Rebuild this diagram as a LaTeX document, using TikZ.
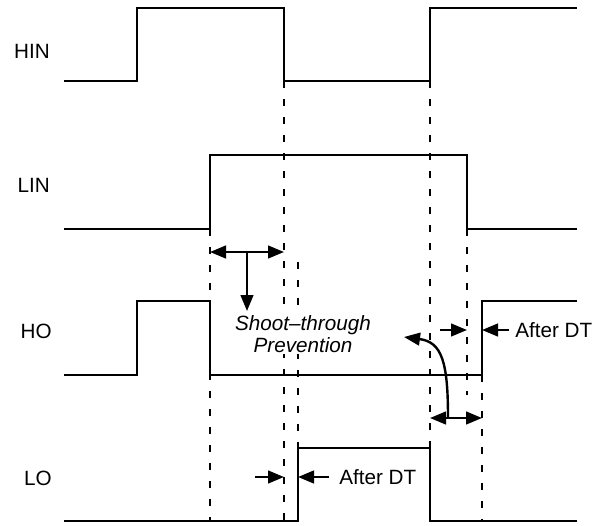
\documentclass[tikz,border=0pt]{standalone}
\usepackage{fontspec}
\setmainfont{Liberation Sans}
\usetikzlibrary{arrows.meta}
\begin{document}
\begin{tikzpicture}[x=0.75pt,y=-0.75pt,
  wave/.style={line width=1.8pt, line join=miter},
  guide/.style={line width=1.8pt, dash pattern=on 5.5pt off 8pt},
  arr/.style={line width=1.8pt,-{Triangle[length=12pt,width=9.5pt]}},
  darr/.style={line width=1.8pt,{Triangle[length=12pt,width=9.5pt]}-{Triangle[length=12pt,width=9.5pt]}},
  lbl/.style={font=\fontsize{15.5}{18}\selectfont, inner sep=0pt},
  sig/.style={lbl, anchor=base east},
  note/.style={font=\fontsize{15.5}{17}\selectfont\itshape, align=center, fill=white, inner sep=1pt}]
\useasboundingbox (0,0) rectangle (602,525);
\fill[white] (0,0) rectangle (602,525);

% signal labels
\node[sig] (hin) at (50,58) {HIN};
\node[sig] (lin) at (50,192) {LIN};
\node[sig] (ho)  at (52,338) {HO};
\node[sig] (lo)  at (52,485) {LO};

% guide coordinates
\coordinate (g1a) at (284,81);  \coordinate (g1b) at (284,521);
\coordinate (g2a) at (298,262); \coordinate (g2b) at (298,448);
\coordinate (g3a) at (210,229); \coordinate (g3b) at (210,521);
\coordinate (g4a) at (430,81);  \coordinate (g4b) at (430,448);
\coordinate (g5a) at (467,229); \coordinate (g5b) at (467,395);
\coordinate (g6a) at (482,375); \coordinate (g6b) at (482,521);

\draw[guide] (g1a) -- (g1b);
\draw[guide] (g2a) -- (g2b);
\draw[guide] (g3a) -- (g3b);
\draw[guide] (g4a) -- (g4b);
\draw[guide] (g5a) -- (g5b);
\draw[guide] (g6a) -- (g6b);

% waveforms
\draw[wave] (64,81) -- (137,81) -- (137,8) -- (284,8) -- (284,81) -- (430,81) -- (430,8) -- (577,8);
\draw[wave] (64,229) -- (210,229) -- (210,155) -- (467,155) -- (467,229) -- (577,229);
\draw[wave] (64,375) -- (137,375) -- (137,301) -- (210,301) -- (210,375) -- (482,375) -- (482,301) -- (577,301);
\draw[wave] (64,521) -- (298,521) -- (298,448) -- (430,448) -- (430,521) -- (577,521);

% shoot-through prevention
\node[note] (stp) at (303,334) {Shoot\textendash through\\Prevention};
\coordinate (sa) at (210,252); \coordinate (sb) at (284,252);
\coordinate (sm) at (247,252); \coordinate (sd) at (247,311);
\draw[darr] (sa) -- (sb);
\draw[arr] (sm) -- (sd);

% dead time HO
\coordinate (ha1) at (440,330); \coordinate (ha2) at (467,330);
\coordinate (hb1) at (509,330); \coordinate (hb2) at (482,330);
\draw[arr] (ha1) -- (ha2);
\draw[arr] (hb1) -- (hb2);
\node[lbl, anchor=west] (adt1) at (515,330) {After DT};

% dead time LO
\coordinate (la1) at (255,477); \coordinate (la2) at (284,477);
\coordinate (lb1) at (329,477); \coordinate (lb2) at (298,477);
\draw[arr] (la1) -- (la2);
\draw[arr] (lb1) -- (lb2);
\node[lbl, anchor=west] (adt2) at (339,477) {After DT};

% bottom double arrow and curved pointer
\coordinate (da) at (430,418); \coordinate (db) at (482,418);
\coordinate (cm) at (448,418); \coordinate (ct) at (404,337);
\draw[darr] (da) -- (db);
\draw[arr] (cm) .. controls (448,362) and (442,342) .. (ct);
\end{tikzpicture}
\end{document}
